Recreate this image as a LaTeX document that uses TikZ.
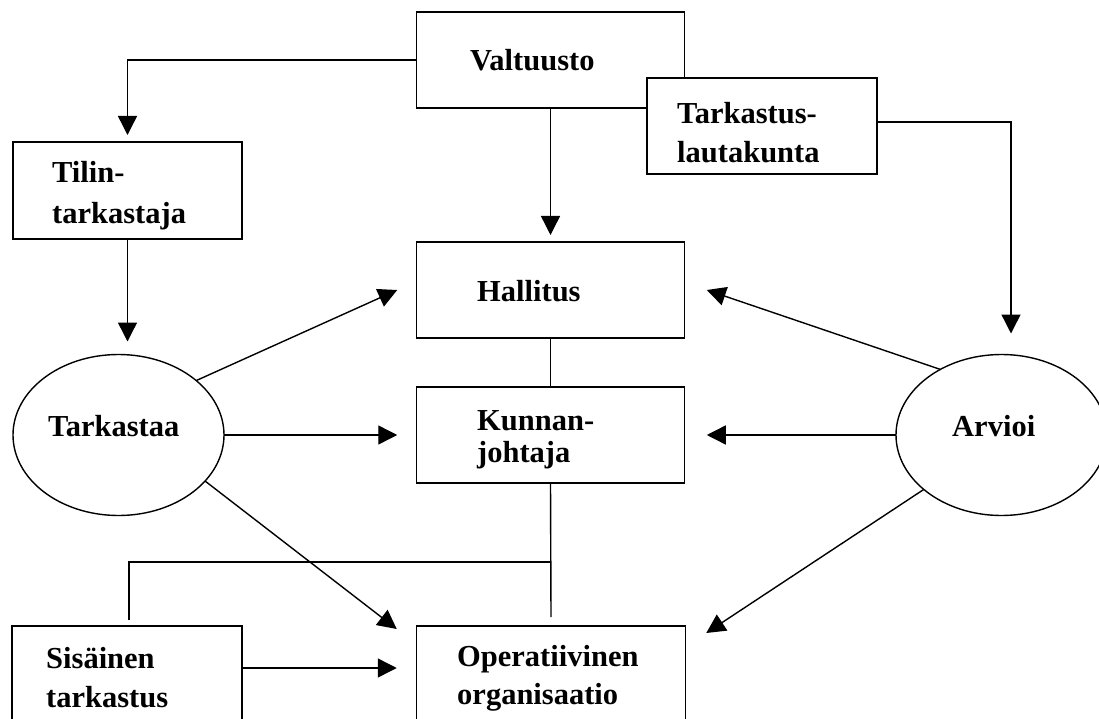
\documentclass[tikz,border=0pt]{standalone}
\usepackage{fontspec}
\setmainfont{Liberation Serif}
\usetikzlibrary{arrows.meta,shapes.geometric}
\begin{document}
\begin{tikzpicture}[x=1pt,y=-1pt,
  box/.style={draw, line width=1.4pt, fill=white, rectangle, inner sep=0pt, outer sep=0pt},
  wbox/.style={box, minimum width=268.5pt, minimum height=96pt},
  oval/.style={draw, line width=1.4pt, ellipse, minimum width=211pt, minimum height=161pt, inner sep=0pt, outer sep=0pt},
  lbl/.style={anchor=base west, inner sep=0pt, font=\fontsize{30.5}{36}\selectfont\bfseries},
  conn/.style={line width=1.4pt},
  arr/.style={conn, -{Triangle[length=19pt,width=19pt]}}
]
\useasboundingbox (0,0) rectangle (1099,719);
\clip (0,0) rectangle (1099,719);

% boxes and ovals
\node[wbox] (valt) at (550.5,60) {};
\node[box, minimum width=229pt, minimum height=97pt] (tilin) at (127.5,190.5) {};
\node[wbox] (hall) at (550.5,290) {};
\node[wbox] (kunn) at (550.5,435) {};
\node[box, minimum width=268.5pt, minimum height=100pt] (oper) at (551,676) {};
\node[box, minimum width=230pt, minimum height=100pt] (sis) at (127,676) {};
\node[oval] (tkst) at (118.5,435) {};
\node[oval] (arv) at (1001.5,435) {};

% connectors
\draw[arr, shorten >=7pt] (valt.west) -| (tilin.north);
\draw[arr, shorten >=7pt] (valt.south) -- (hall.north);
\node[box, minimum width=230pt, minimum height=96pt] (tark) at (762,126) {};
\draw[arr, shorten >=21pt] ([yshift=4pt]tark.east) -| ([xshift=9.5pt]arv.north);
\draw[arr, shorten >=13pt] (tilin.south) -- (tilin.south |- tkst.north);
\draw[arr] (tkst.35) -- ([xshift=-19pt]hall.west);
\draw[arr] (tkst.east) -- ([xshift=-19pt]kunn.west);
\draw[arr] (tkst.-28) -- ([xshift=-20pt,yshift=-3pt]oper.north west);
\draw[arr] (arv.133) -- ([xshift=22pt]hall.east);
\draw[arr] (arv.west) -- ([xshift=22pt]kunn.east);
\draw[arr] (arv.-145) -- ([xshift=21pt,yshift=-7pt]oper.north east);
\draw[conn] (hall.south) -- (kunn.north);
\draw[conn] (kunn.south) -- ([yshift=9pt]oper.north);
\coordinate (j) at (550.5,562);
\draw[conn] ([xshift=2pt,yshift=6pt]sis.north) |- (j);
\draw[arr] ([yshift=8pt]sis.east) -- ([yshift=8pt,xshift=-20pt]oper.west);

% labels
\node[lbl] (tValt) at (470,71) {Valtuusto};
\node[lbl] (tTark1) at (677,124) {Tarkastus-};
\node[lbl] (tTark2) at (677,163) {lautakunta};
\node[lbl] (tTil1) at (52,183) {Tilin-};
\node[lbl] (tTil2) at (52,224) {tarkastaja};
\node[lbl] (tHall) at (477,301) {Hallitus};
\node[lbl] (tKun1) at (477,430) {Kunnan-};
\node[lbl] (tKun2) at (477,462) {johtaja};
\node[lbl] (tTkst) at (48,436) {Tarkastaa};
\node[lbl] (tArv) at (952,436) {Arvioi};
\node[lbl] (tSis1) at (46,668) {Sisäinen};
\node[lbl] (tSis2) at (46,707) {tarkastus};
\node[lbl] (tOp1) at (457,666) {Operatiivinen};
\node[lbl] (tOp2) at (457,704) {organisaatio};
\end{tikzpicture}
\end{document}
